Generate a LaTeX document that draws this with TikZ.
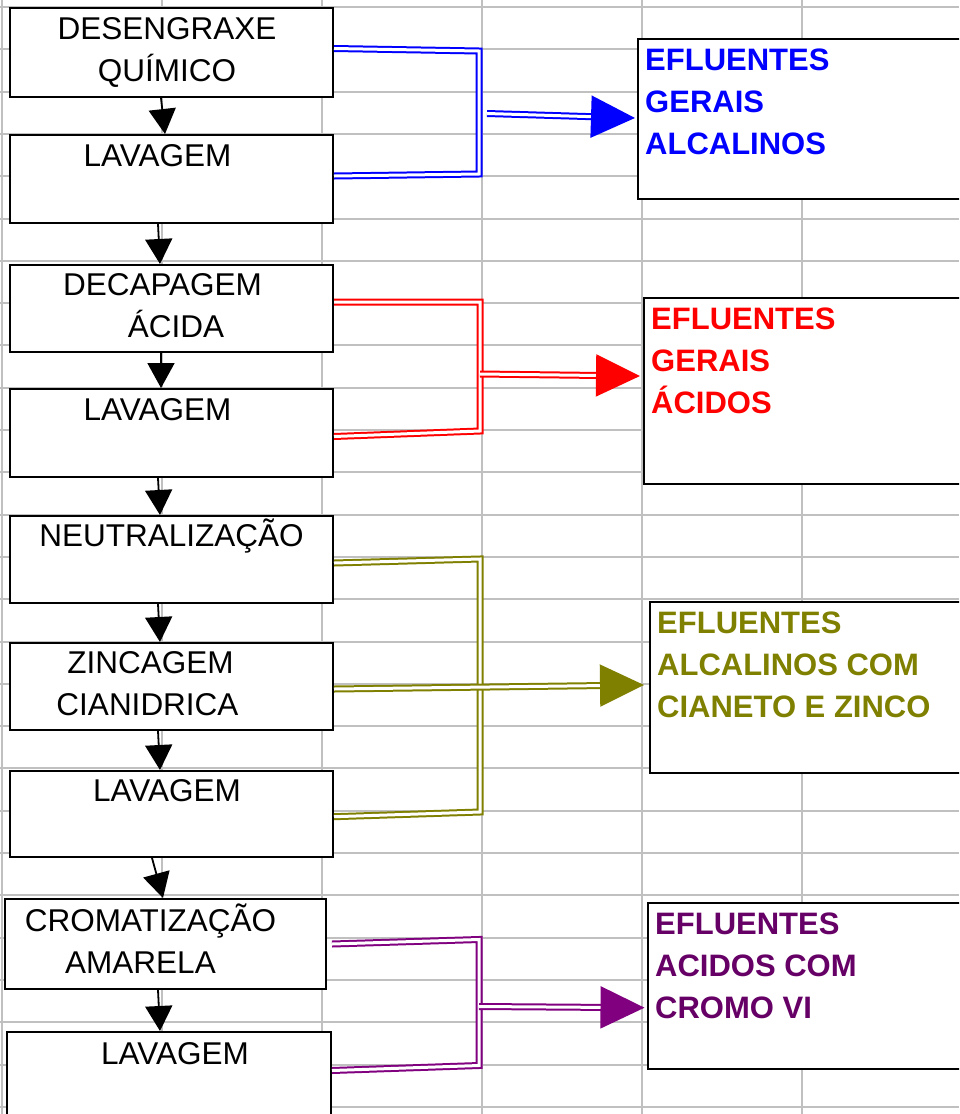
\documentclass[tikz,border=0pt]{standalone}
\usepackage{fontspec}
\setmainfont{Liberation Sans}
\usepackage{tikz}
\usetikzlibrary{arrows.meta}
\definecolor{gridgray}{RGB}{192,192,192}
\definecolor{lineblue}{RGB}{0,0,255}
\definecolor{linered}{RGB}{255,0,0}
\definecolor{lineolive}{RGB}{128,128,0}
\definecolor{linepurple}{RGB}{128,0,128}
\definecolor{textpurple}{RGB}{102,0,102}
\tikzset{proc/.style = {draw, line width=2pt, fill=white, inner sep=0pt,
                        align=center, font=\fontsize{31.5}{42}\selectfont},
         effbox/.style = {draw, line width=2pt, fill=white, inner sep=0pt,
                          anchor=north west, minimum width=360pt},
         efftext/.style = {anchor=north west, inner xsep=8pt, inner ysep=3.2pt,
                           align=left, font=\fontsize{31}{42}\selectfont\bfseries},
         flow/.style = {line width=1.8pt, -{Triangle[length=25pt,width=27pt]}},
         drain/.style = {line width=2pt, double=white, double distance=3pt},
         feed/.style = {drain, -{Triangle[length=44pt,width=42pt]}}}

\begin{document}
\begin{tikzpicture}[x=1pt, y=-1pt]
      \path [use as bounding box, fill=white] (0, 0) rectangle (959, 1114);
      \clip (0, 0) rectangle (959, 1114);

      % spreadsheet cells behind the chart
      \foreach \i in {0,...,5}
        \draw [gridgray, line width=2pt] ({1.5+160*\i}, 0) -- ({1.5+160*\i}, 1114);
      \foreach \j in {0,...,26}
        \draw [gridgray, line width=2pt] (0, {7+42.3*\j}) -- (959, {7+42.3*\j});

      % process line (second row of each box is kept, as in the original)
      \node [proc, minimum width=323pt, minimum height=89pt] (b1) at (171.5, 52.5)
        {\strut\hspace*{-9pt}DESENGRAXE\\\strut\hspace*{-9pt}QUÍMICO};
      \node [proc, minimum width=323pt, minimum height=88pt] (b2) at (171.5, 179)
        {\strut\hspace*{-28pt}LAVAGEM\\\strut};
      \node [proc, minimum width=323pt, minimum height=87pt] (b3) at (171.5, 308.5)
        {\strut\hspace*{-18pt}DECAPAGEM\\\strut\hspace*{9pt}ÁCIDA};
      \node [proc, minimum width=323pt, minimum height=88pt] (b4) at (171.5, 433)
        {\strut\hspace*{-28pt}LAVAGEM\\\strut};
      \node [proc, minimum width=323pt, minimum height=87pt] (b5) at (171.5, 559.5)
        {\strut NEUTRALIZAÇÃO\\\strut};
      \node [proc, minimum width=323pt, minimum height=87pt] (b6) at (171.5, 686.5)
        {\strut\hspace*{-42pt}ZINCAGEM\\\strut\hspace*{-48pt}CIANIDRICA};
      \node [proc, minimum width=323pt, minimum height=86pt] (b7) at (171.5, 814)
        {\strut\hspace*{-9pt}LAVAGEM\\\strut};
      \node [proc, minimum width=321pt, minimum height=90pt] (b8) at (165.5, 944)
        {\strut\hspace*{-30pt}CROMATIZAÇÃO\\\strut\hspace*{-50pt}AMARELA};
      \node [proc, minimum width=324pt, minimum height=90pt] (b9) at (169, 1077)
        {\strut\hspace*{12pt}LAVAGEM\\\strut};

      \foreach \a/\b/\s/\t in {b1/b2/-10.5pt/-6.5pt, b2/b3/-13.5pt/-11.5pt,
                               b3/b4/-10.5pt/-10.5pt, b4/b5/-13.5pt/-11.5pt,
                               b5/b6/-13.5pt/-11.5pt, b6/b7/-13.5pt/-11.5pt,
                               b7/b8/-19.5pt/-2.5pt, b8/b9/-7.5pt/-9pt}
        \draw [flow] ([xshift=\s]\a.south) -- ([xshift=\t]\b.north);

      % effluent boxes, run off the right edge
      \node [effbox, minimum height=160pt] (e1) at (637, 38) {};
      \node [efftext, text=lineblue] (e1t) at (e1.north west)
        {\strut EFLUENTES\\GERAIS\\ALCALINOS};
      \node [effbox, minimum height=186pt] (e2) at (643, 297) {};
      \node [efftext, text=linered] (e2t) at (e2.north west)
        {\strut EFLUENTES\\GERAIS\\ÁCIDOS};
      \node [effbox, minimum height=171pt] (e3) at (649, 601) {};
      \node [efftext, text=lineolive] (e3t) at (e3.north west)
        {\strut EFLUENTES\\ALCALINOS COM\\CIANETO E ZINCO};
      \node [effbox, minimum height=166pt] (e4) at (647, 902) {};
      \node [efftext, text=textpurple] (e4t) at (e4.north west)
        {\strut EFLUENTES\\ACIDOS COM\\CROMO VI};

      % alkaline
      \coordinate (alk1) at (479, 51);
      \coordinate (alk2) at (479, 174);
      \coordinate (alkout) at (487, 113.5);
      \draw [drain, lineblue] ([yshift=4pt]b1.east) -- (alk1) -- (alk2) -- ([yshift=3pt]b2.east);
      \draw [feed, lineblue] (alkout) -- ([xshift=-2pt, yshift=1pt]e1.west);

      % acid
      \coordinate (acid1) at (480, 302);
      \coordinate (acid2) at (480, 431);
      \coordinate (acidout) at (480, 374);
      \draw [drain, linered] ([yshift=6.5pt]b3.east) -- (acid1) -- (acid2) -- ([yshift=-3.5pt]b4.east);
      \draw [feed, linered] (acidout) -- ([xshift=-3pt, yshift=15pt]e2.west);

      % cyanide
      \coordinate (cyan1) at (480, 559);
      \coordinate (cyan2) at (480, 812);
      \draw [drain, lineolive] ([yshift=-3.5pt]b5.east) -- (cyan1) -- (cyan2) -- ([yshift=-2.7pt]b7.east);
      \draw [feed, lineolive] ([yshift=-2.5pt]b6.east) -- ([xshift=-5pt, yshift=2.5pt]e3.west);

      % chrome
      \coordinate (chro1) at (479, 939.5);
      \coordinate (chro2) at (479, 1065.5);
      \coordinate (chroout) at (479, 1006.5);
      \draw [drain, linepurple] ([xshift=5pt]b8.east) -- (chro1) -- (chro2) -- ([yshift=6.5pt]b9.east);
      \draw [feed, linepurple] (chroout) -- ([xshift=-2.5pt, yshift=-21.7pt]e4.west);
\end{tikzpicture}
\end{document}
